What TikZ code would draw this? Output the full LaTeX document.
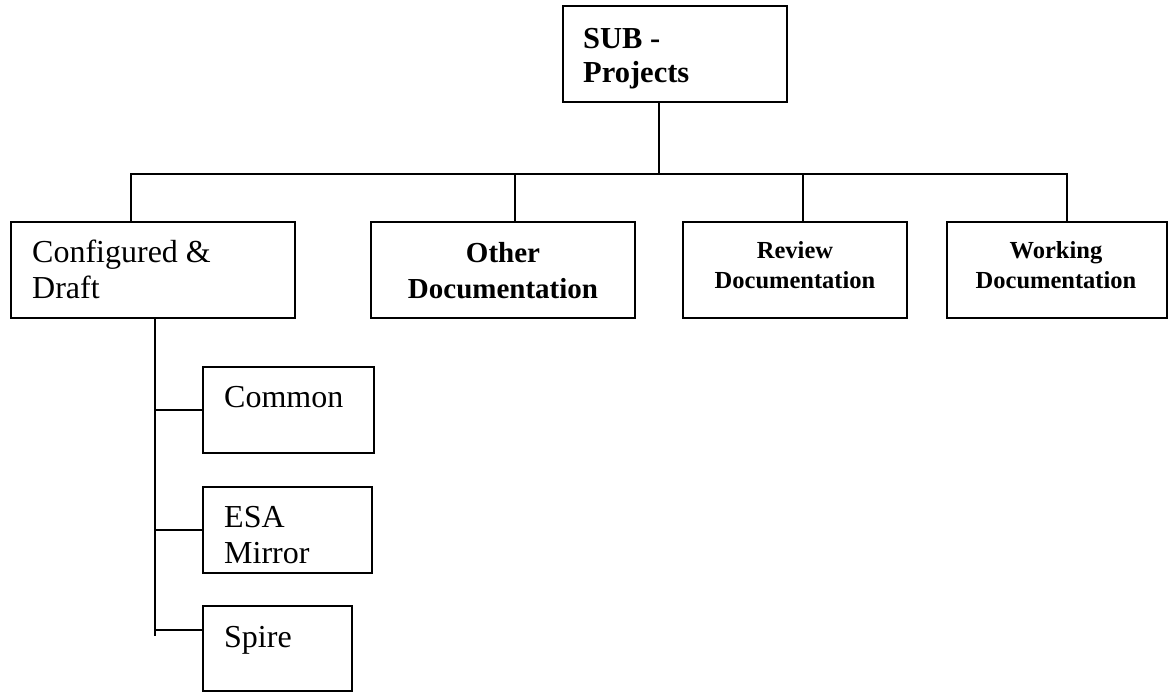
\documentclass[tikz,border=0pt]{standalone}
\usepackage{fontspec}
\setmainfont{Liberation Serif}
\begin{document}
\begin{tikzpicture}[x=1pt,y=-1pt,
  box/.style={draw, line width=1.6pt, anchor=north west, inner sep=0pt, outer sep=0pt},
  conn/.style={line width=1.6pt},
  reg/.style={inner sep=0pt, align=left, font=\fontsize{32}{36}\selectfont},
  bigb/.style={inner sep=0pt, align=center, font=\bfseries\fontsize{29}{36}\selectfont},
  subb/.style={inner sep=0pt, align=left, font=\bfseries\fontsize{30.5}{35}\selectfont},
  smb/.style={inner sep=0pt, align=center, font=\bfseries\fontsize{24.5}{30}\selectfont}]
\useasboundingbox[fill=white] (0,0) rectangle (1168,693);
% boxes
\node[box, minimum width=224pt, minimum height=96pt] (sub) at (563,6) {};
\node[box, minimum width=284pt, minimum height=96pt] (cd) at (11,222) {};
\node[box, minimum width=264pt, minimum height=96pt] (od) at (371,222) {};
\node[box, minimum width=224pt, minimum height=96pt] (rd) at (683,222) {};
\node[box, minimum width=220pt, minimum height=96pt] (wd) at (947,222) {};
\node[box, minimum width=171pt, minimum height=86pt] (cm) at (203,367) {};
\node[box, minimum width=169pt, minimum height=86pt] (esa) at (203,487) {};
\node[box, minimum width=149pt, minimum height=85pt] (sp) at (203,606) {};
% texts (anchor base = baseline of last line)
\node[subb, anchor=base west] (subt) at (583,83) {SUB -\\Projects};
\node[reg, anchor=base west] (cdt) at (32,298) {Configured \&\\Draft};
\node[bigb, anchor=base] (odt) at (503,298) {Other\\Documentation};
\node[smb, anchor=base] (rdt) at (795,288) {Review\\Documentation};
\node[smb, anchor=base] (wdt) at (1056,288) {Working\\Documentation};
\node[reg, anchor=base west] (cmt) at (224,407) {Common};
\node[reg, anchor=base west] (esat) at (224,563) {ESA\\Mirror};
\node[reg, anchor=base west] (spt) at (224,647) {Spire};
% connectors
\coordinate (jn) at (659,174);
\coordinate (busL) at (131,174);
\coordinate (busR) at (1067,174);
\coordinate (tO) at (515,174);
\coordinate (tR) at (803,174);
\coordinate (trunk) at (155,636);
\draw[conn] (jn |- sub.south) -- (jn);
\draw[conn] (busL |- cd.north) -- (busL) -- (busR) -- (busR |- wd.north);
\draw[conn] (tO) -- (tO |- od.north);
\draw[conn] (tR) -- (tR |- rd.north);
\draw[conn] (trunk |- cd.south) -- (trunk);
\draw[conn] (trunk |- cm.west) -- (cm.west);
\draw[conn] (trunk |- esa.west) -- (esa.west);
\draw[conn] (155,630) -- (sp.west |- 155,630);
\end{tikzpicture}
\end{document}
